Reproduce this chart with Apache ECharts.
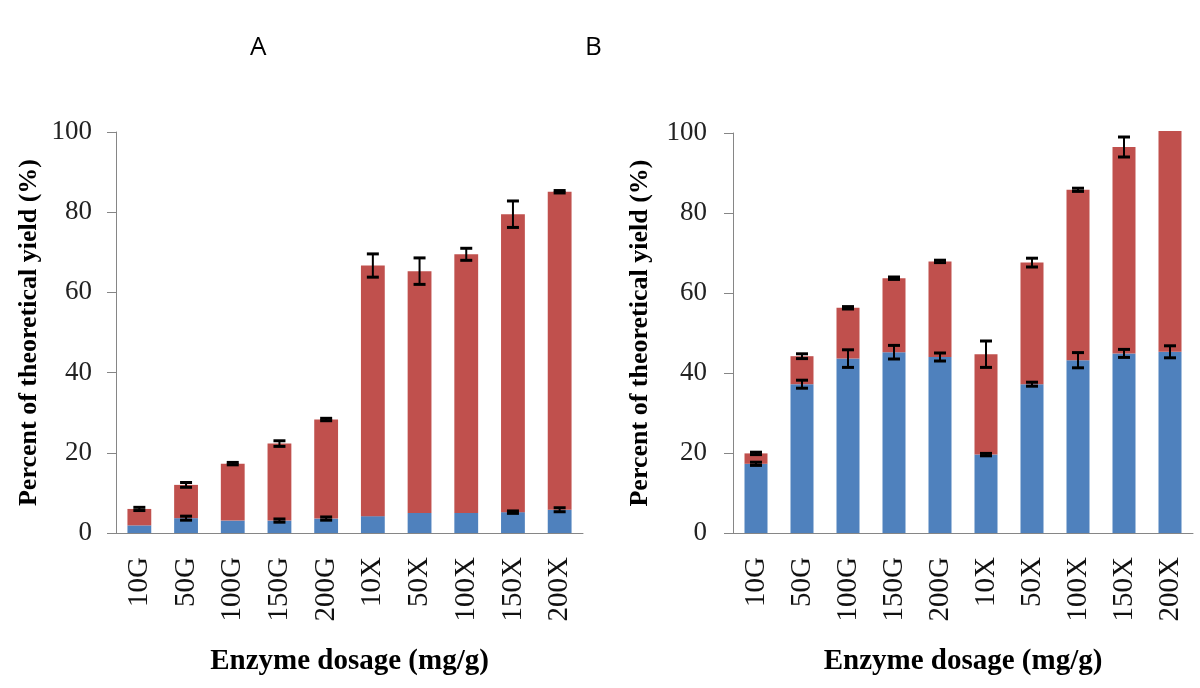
<!DOCTYPE html>
<html>
<head>
<meta charset="utf-8">
<script src="https://cdn.jsdelivr.net/npm/echarts@6/dist/echarts.min.js"></script>
<style>
html,body{margin:0;padding:0;background:#fff;}
#chart{width:1200px;height:688px;}
</style>
</head>
<body>
<div id="chart"></div>
<script>
// ---- Data ----
const categories = ['10G', '50G', '100G', '150G', '200G', '10X', '50X', '100X', '150X', '200X'];
const yTicks = [0, 20, 40, 60, 80, 100];

// Panel A
const blueA = [1.9, 3.7, 3.1, 3.1, 3.6, 4.2, 5.0, 5.0, 5.2, 5.8];
const redA = [4.1, 8.3, 14.2, 19.2, 24.7, 62.5, 60.3, 64.5, 74.3, 79.3];
const blueErrA = [0, 0.5, 0, 0.4, 0.4, 0, 0, 0, 0.3, 0.5];
const redErrA = [0.4, 0.6, 0.3, 0.7, 0.3, 2.9, 3.3, 1.5, 3.3, 0.3];

// Panel B
const blueB = [17.3, 37.2, 43.6, 45.2, 44.0, 19.6, 37.2, 43.2, 44.9, 45.3];
const redB = [2.6, 7.0, 12.7, 18.5, 23.9, 25.1, 30.4, 42.6, 51.6, 55.2];
const blueErrB = [0.4, 1.0, 2.2, 1.7, 1.0, 0.3, 0.5, 1.9, 1.0, 1.5];
const redErrB = [0.3, 0.6, 0.3, 0.3, 0.3, 3.3, 1.1, 0.4, 2.5, 0];

const panelLetters = ['A', 'B'];
const yTitle = 'Percent of theoretical yield (%)';
const xTitle = 'Enzyme dosage (mg/g)';

// ---- Styles ----
const BLUE = '#4F81BD';
const RED = '#C0504D';
const AXIS = '#868686';
const SERIF = '"Liberation Serif", "Times New Roman", serif';
const SANS = '"Open Sans", "Liberation Sans", sans-serif';

const chart = echarts.init(document.getElementById('chart'), null, {renderer: 'canvas'});

function errSeries(gridIdx, bottoms, values, errs) {
  const data = categories.map((c, i) => [i, bottoms[i] + values[i], errs[i]]);
  return {
    type: 'custom',
    xAxisIndex: gridIdx,
    yAxisIndex: gridIdx,
    z: 10,
    silent: true,
    clip: false,
    data: data,
    renderItem: function (params, api) {
      const e = api.value(2);
      if (!e) return null;
      const i = api.value(0);
      const top = api.value(1);
      const hi = api.coord([i, top + e]);
      const lo = api.coord([i, top - e]);
      const hw = 6;
      return {
        type: 'group',
        children: [
          {type: 'line', shape: {x1: hi[0], y1: hi[1], x2: lo[0], y2: lo[1]}, style: {stroke: '#000', lineWidth: 2}},
          {type: 'line', shape: {x1: hi[0] - hw, y1: hi[1], x2: hi[0] + hw, y2: hi[1]}, style: {stroke: '#000', lineWidth: 3}},
          {type: 'line', shape: {x1: lo[0] - hw, y1: lo[1], x2: lo[0] + hw, y2: lo[1]}, style: {stroke: '#000', lineWidth: 3}}
        ]
      };
    }
  };
}

function xAxisCfg(gridIdx) {
  return {
    type: 'category',
    gridIndex: gridIdx,
    data: categories,
    axisLine: {lineStyle: {color: AXIS, width: 1}},
    axisTick: {show: false},
    axisLabel: {rotate: 90, margin: 24, color: '#111', fontFamily: SERIF, fontSize: 29, interval: 0},
    name: xTitle,
    nameLocation: 'middle',
    nameGap: 114,
    nameTextStyle: {fontFamily: SERIF, fontWeight: 'bold', fontSize: 29, color: '#000'}
  };
}

function yAxisCfg(gridIdx, gap, lblMargin) {
  return {
    type: 'value',
    gridIndex: gridIdx,
    min: yTicks[0],
    max: yTicks[yTicks.length - 1],
    interval: 20,
    splitLine: {show: false},
    axisLine: {show: true, lineStyle: {color: AXIS, width: 1}},
    axisTick: {show: true, length: 9, lineStyle: {color: AXIS}},
    axisLabel: {margin: lblMargin, color: '#222', fontFamily: SERIF, fontSize: 27},
    name: yTitle,
    nameLocation: 'middle',
    nameRotate: 90,
    nameGap: gap,
    nameTextStyle: {fontFamily: SERIF, fontWeight: 'bold', fontSize: 26, color: '#000'}
  };
}

const option = {
  animation: false,
  backgroundColor: '#fff',
  title: [
    {text: panelLetters[0], left: 245, top: 30, textStyle: {fontFamily: SANS, fontWeight: 'normal', fontSize: 26, color: '#000'}},
    {text: panelLetters[1], left: 580, top: 30, textStyle: {fontFamily: SANS, fontWeight: 'normal', fontSize: 26, color: '#000'}}
  ],
  grid: [
    {left: 116, top: 132, width: 467, height: 401},
    {left: 733, top: 133, width: 460, height: 400}
  ],
  xAxis: [xAxisCfg(0), xAxisCfg(1)],
  yAxis: [yAxisCfg(0, 74, 24), yAxisCfg(1, 80, 26)],
  series: [
    {type: 'bar', name: 'blueA', xAxisIndex: 0, yAxisIndex: 0, stack: 'A', data: blueA, barWidth: '51%', itemStyle: {color: BLUE}},
    {type: 'bar', name: 'redA', xAxisIndex: 0, yAxisIndex: 0, stack: 'A', data: redA, barWidth: '51%', itemStyle: {color: RED}},
    {type: 'bar', name: 'blueB', xAxisIndex: 1, yAxisIndex: 1, stack: 'B', data: blueB, barWidth: '50%', itemStyle: {color: BLUE}},
    {type: 'bar', name: 'redB', xAxisIndex: 1, yAxisIndex: 1, stack: 'B', data: redB, barWidth: '50%', clip: false, itemStyle: {color: RED}},
    errSeries(0, categories.map(() => 0), blueA, blueErrA),
    errSeries(0, blueA, redA, redErrA),
    errSeries(1, categories.map(() => 0), blueB, blueErrB),
    errSeries(1, blueB, redB, redErrB)
  ]
};
chart.setOption(option);
</script>
</body>
</html>
